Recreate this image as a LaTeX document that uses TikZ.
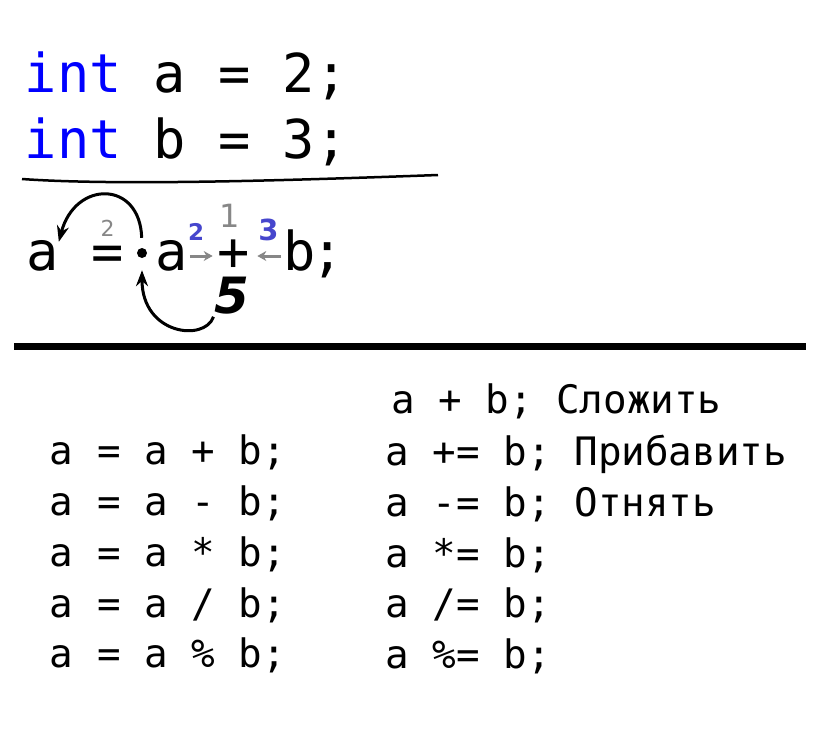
\documentclass[tikz,border=0pt]{standalone}
\usepackage{fontspec}
\usepackage{tikz}
\usetikzlibrary{arrows.meta,positioning,calc}
\newfontfamily\codefont{DejaVu Sans Mono}
\newfontfamily\handfont{DejaVu Sans}
\definecolor{intblue}{RGB}{0,0,255}
\definecolor{penblue}{RGB}{70,70,205}
\definecolor{pengray}{RGB}{135,135,135}

\begin{document}
\begin{tikzpicture}[x=1pt,y=-1pt,
    big/.style={font=\codefont\fontsize{53.6}{60}\selectfont, inner sep=0pt},
    small/.style={font=\codefont\fontsize{39.2}{44}\selectfont, inner sep=0pt, anchor=base west},
    glyph/.style={big, text height=28pt, text depth=0pt, anchor=base},
    note/.style={inner sep=0pt, anchor=base},
    pen/.style={line width=3pt, -{Stealth[length=16pt,width=12pt]}},
    nudge/.style={pengray, line width=3pt, -{Stealth[length=9pt,width=10pt]}},
    ]
\useasboundingbox (0,0) rectangle (832,737);

% declarations
\node[big, anchor=base west] (decla) at (24.6,92) {\textcolor{intblue}{int} a = 2;};
\node[big, anchor=base west] (declb) at (24.6,158) {\textcolor{intblue}{int} b = 3;};
\draw[line width=2.5pt] (22,179) .. controls (120,186) and (300,180) .. (438,175);

% a = a + b; step by step
\node[glyph] (lhs) at (42.5,270) {a};
\node[glyph] (eq) at (107.5,270) {=};
\node[glyph] (rhs) at (171.5,270) {a};
\node[glyph] (plus) at (234,270) {+};
\node[glyph] (bvar) at (299.5,270) {b};
\node[glyph] (semi) at (328,270) {;};
\node[circle, fill, inner sep=0pt, minimum size=10pt] (dot) at (142,253) {};

\node[note, font=\handfont\fontsize{22}{22}\selectfont, text=pengray] (ord2) at (107.5,236) {2};
\node[note, font=\handfont\fontsize{32}{32}\selectfont, text=pengray] (ord1) at (230,227) {1};
\node[note, font=\handfont\bfseries\fontsize{23}{23}\selectfont, text=penblue] (vala) at (196,240) {2};
\node[note, font=\handfont\bfseries\fontsize{29}{29}\selectfont, text=penblue] (valb) at (268.5,240) {3};
\node[note, font=\handfont\bfseries\itshape\fontsize{50}{50}\selectfont] (five) at (232,313) {5};

\draw[nudge, shorten <=2pt, shorten >=5pt] (rhs.east) -- (plus.west |- rhs.east);
\draw[nudge, shorten <=2pt, shorten >=7pt] (bvar.west) -- (plus.east |- bvar.west);
\draw[pen, shorten <=10pt] (dot.north) .. controls (140,180) and (75,180) .. (lhs.north east);
\draw[pen, shorten <=3pt, shorten >=12pt] (five.south west) .. controls (205,342) and (142,335) .. (dot.south);

\draw[line width=7pt] (14,346) -- (806,346);

% long and short forms
\foreach \op [count=\i] in {+,-,*,/,\%}
  \node[small] (row\i) at (49.7,{414+50.75*\i}) {a = a \op{} b;};

\node[small] (sum) at (391,413) {a + b; Сложить};
\node[small] (adda) at (385.5,465) {a += b; Прибавить};
\node[small] (suba) at (385.5,516) {a -= b; Отнять};
\node[small] (mula) at (385.5,567) {a *= b;};
\node[small] (diva) at (385.5,617) {a /= b;};
\node[small] (moda) at (385.5,668) {a \%= b;};
\end{tikzpicture}
\end{document}
